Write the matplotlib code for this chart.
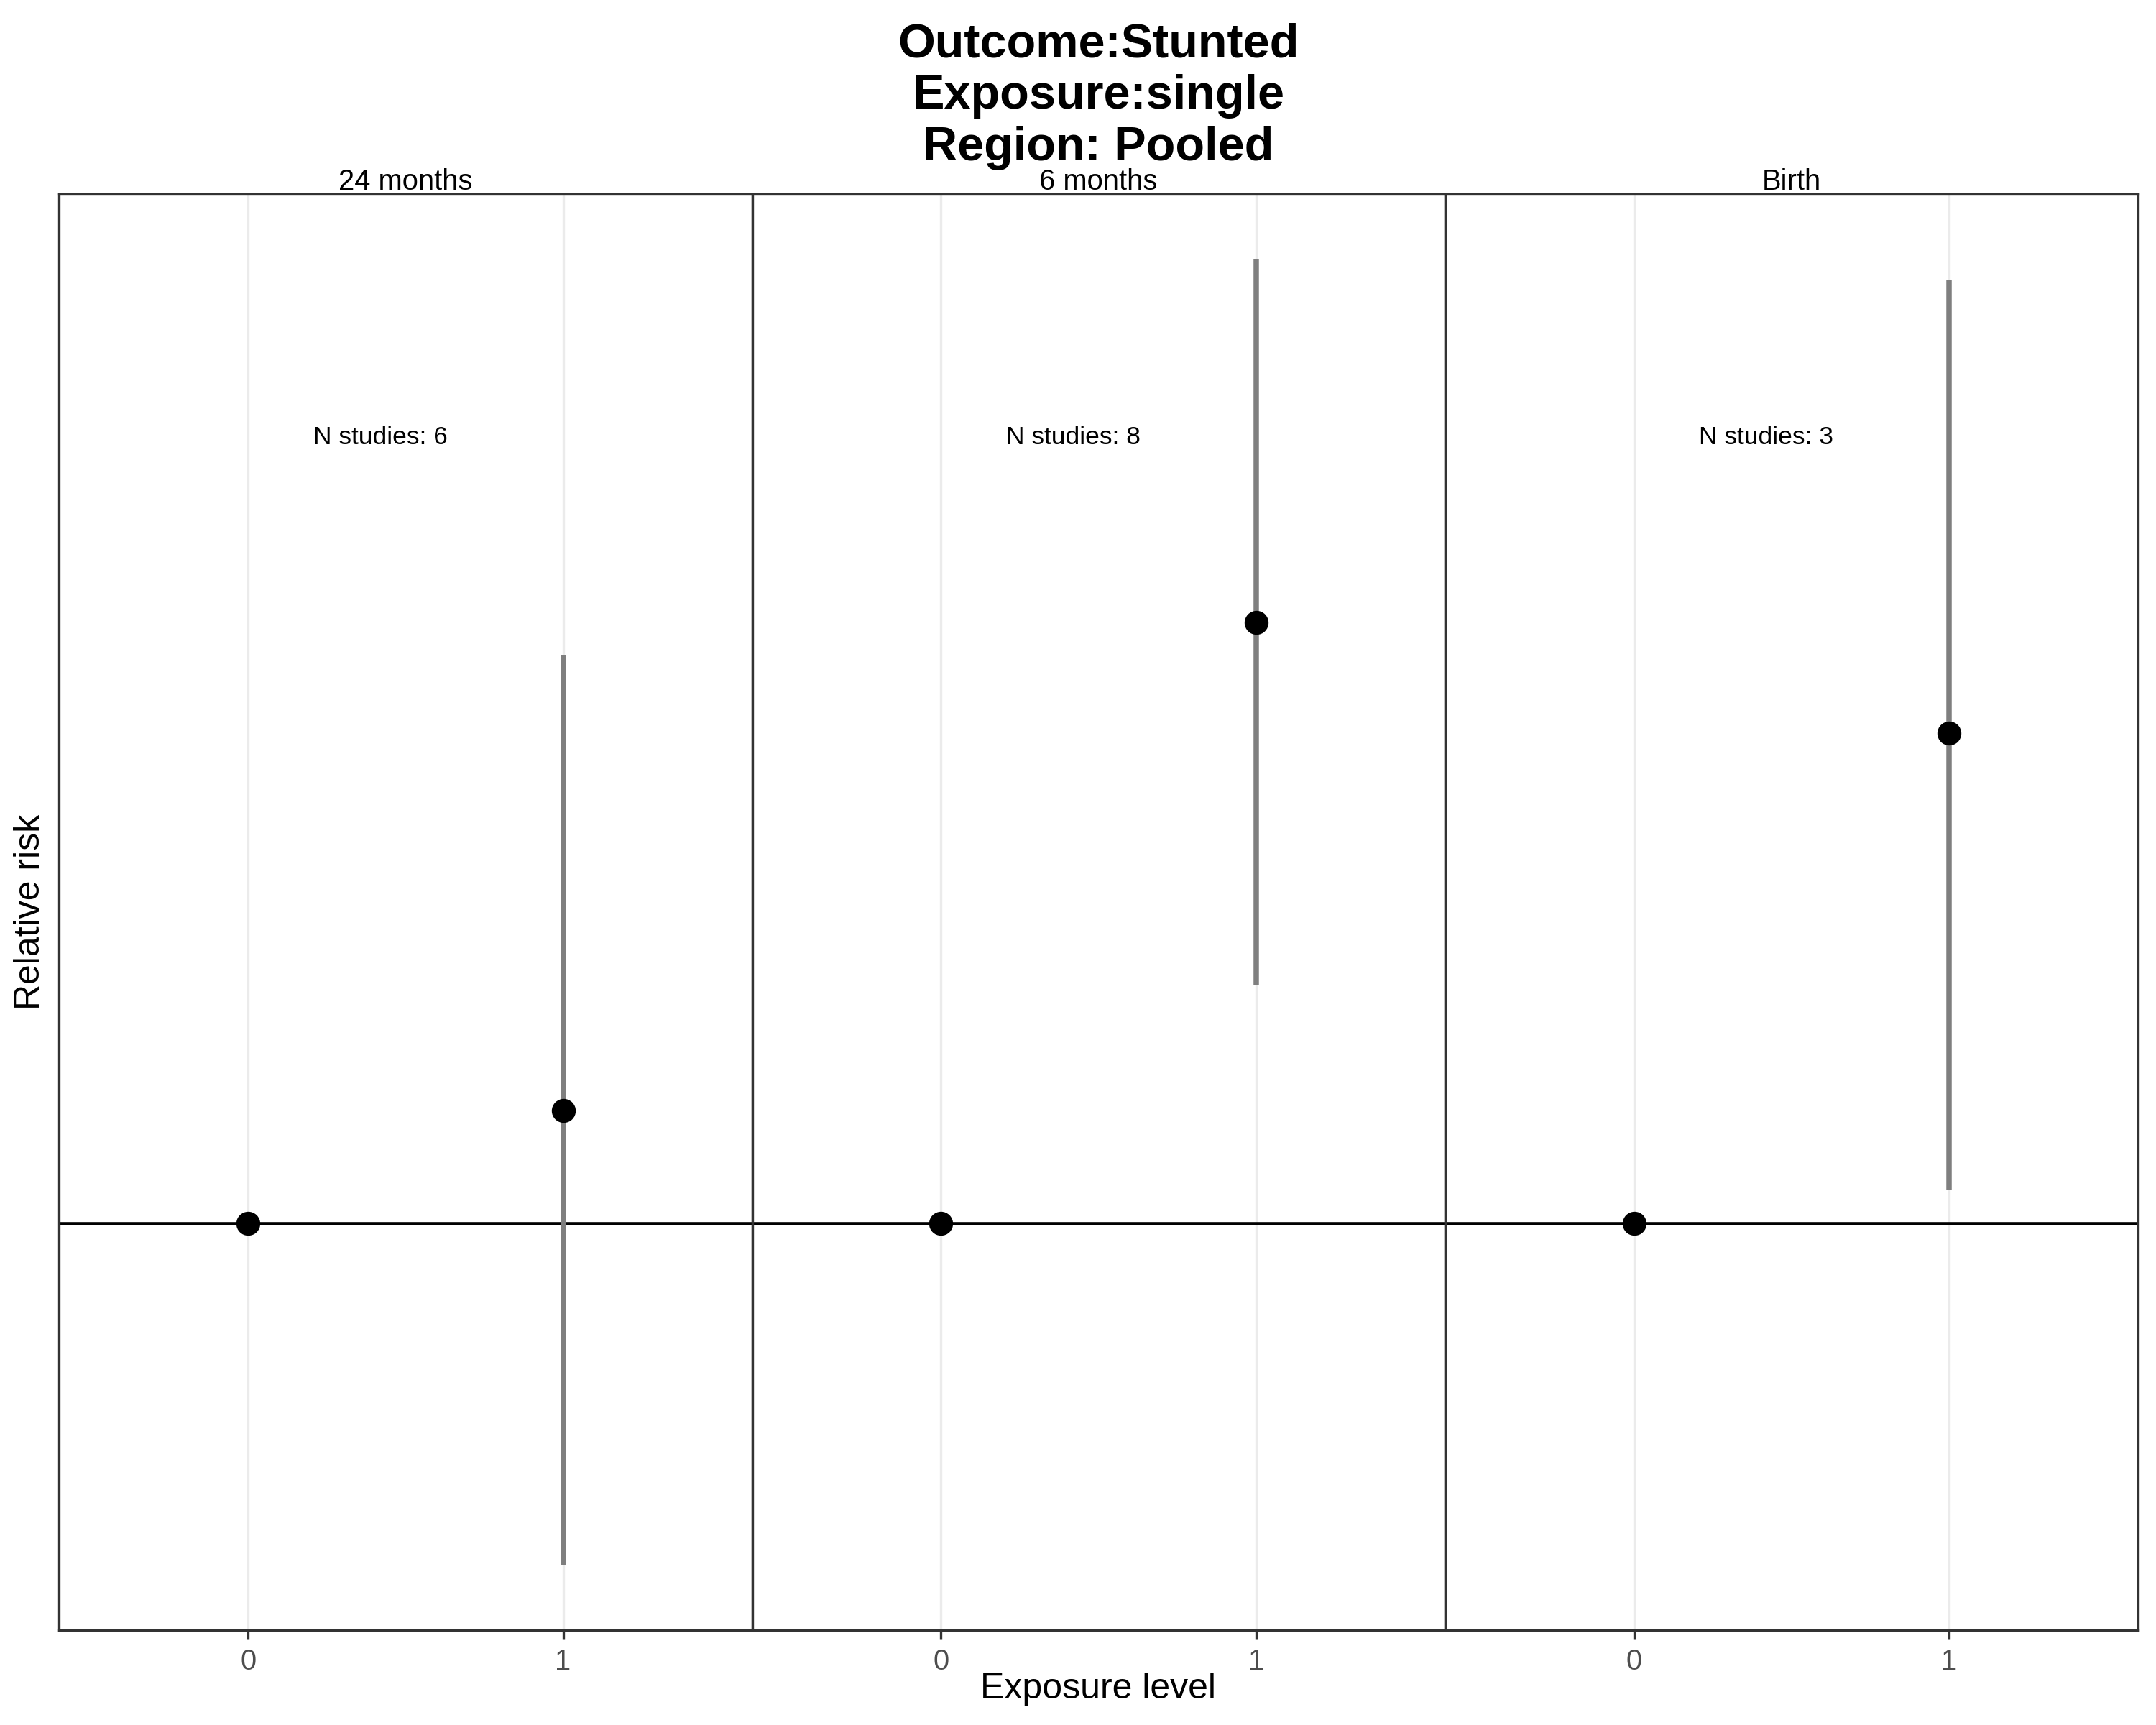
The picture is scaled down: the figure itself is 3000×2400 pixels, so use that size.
import numpy as np
import matplotlib.pyplot as plt

plt.rcParams["font.family"] = "Liberation Sans"

# --- data (relative risks, log scale) ---
panels = ["24 months", "6 months", "Birth"]
n_studies = [6, 8, 3]
levels = [0, 1]
rr = [[1.0, 1.080], [1.0, 1.507], [1.0, 1.397]]
ci_lower = [[1.0, 0.792], [1.0, 1.176], [1.0, 1.023]]
ci_upper = [[1.0, 1.474], [1.0, 1.931], [1.0, 1.904]]
label_x = 0.42
label_y = 1.71

# shared y range: data range + 5% on the log scale, as ggplot does
lo = np.log(np.min(ci_lower))
hi = np.log(np.max(ci_upper))
pad = 0.05 * (hi - lo)
ylims = (np.exp(lo - pad), np.exp(hi + pad))

fig, axes = plt.subplots(1, 3, figsize=(10, 8), dpi=300, sharey=True)
fig.subplots_adjust(left=0.0274, right=0.9917, bottom=0.055, top=0.8876, wspace=0)

for i, ax in enumerate(axes):
    x = np.array(levels)
    y = np.array(rr[i])
    ax.axhline(1, color="black", lw=1.1, zorder=2)
    ax.vlines(x, ci_lower[i], ci_upper[i], color="#7f7f7f", lw=1.8, zorder=3)
    ax.plot(x, y, "o", color="black", ms=7, zorder=4)
    ax.text(label_x, label_y, f"N studies: {n_studies[i]}", ha="center", va="center",
            fontsize=8.5)
    ax.text(0.5, 0.999, panels[i], transform=ax.transAxes, ha="center", va="bottom",
            fontsize=9.6)

    ax.set_yscale("log")
    ax.set_ylim(*ylims)
    ax.set_xlim(-0.6, 1.6)
    ax.set_xticks(levels)
    ax.set_xticklabels([str(v) for v in levels])
    ax.tick_params(axis="x", colors="#333333", labelcolor="#4d4d4d", labelsize=9.6,
                   length=3, width=0.8, pad=3)
    ax.yaxis.set_major_locator(plt.NullLocator())
    ax.yaxis.set_minor_locator(plt.NullLocator())
    ax.grid(axis="x", color="#ebebeb", lw=0.8, zorder=0)
    ax.set_axisbelow(True)
    for s in ax.spines.values():
        s.set_color("#333333")
        s.set_linewidth(0.8)

fig.text(0.5095, 1 - 1228 / 1254, "Exposure level", ha="center", va="center", fontsize=12)
fig.text(1 - (1568 - 22) / 1568, 0.4713, "Relative risk", ha="center", va="center",
         rotation=90, fontsize=12)
fig.text(0.5095, 1 - 70 / 1254, "Outcome:Stunted\nExposure:single\nRegion: Pooled",
         ha="center", va="center", fontsize=16, fontweight="bold", linespacing=1.2)

fig.savefig("out.png", dpi=300)
